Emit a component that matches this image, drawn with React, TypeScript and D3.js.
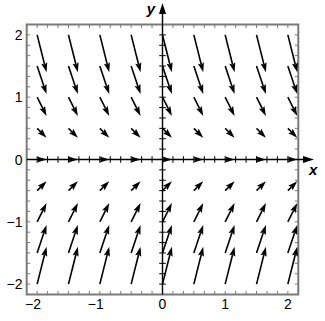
import React from "react";
import * as d3 from "d3";

// Grid positions where vectors are anchored
const gridX = [-2, -1.5, -1, -0.5, 0, 0.5, 1, 1.5, 2];
const gridY = [2, 1.5, 1, 0.5, 0, -0.5, -1, -1.5, -2];
// Vector components (per row, constant along x)
const vecDx = [0.15, 0.15, 0.15, 0.15, 0.15, 0.15, 0.15, 0.15, 0.15];
const vecDy = [-0.6, -0.45, -0.3, -0.15, 0, 0.15, 0.3, 0.45, 0.6];
// Axis tick labels
const xTickLabels = [-2, -1, 0, 1, 2];
const yTickLabels = [2, 1, 0, -1, -2];
const minorStep = 1 / 6;

const W = 325;
const H = 321;

export default function App() {
  const x = d3.scaleLinear().domain([-13 / 6, 13 / 6]).range([26.7, 298.3]);
  const y = d3.scaleLinear().domain([-13 / 6, 13 / 6]).range([294.5, 24.5]);
  const minor = d3.range(-12, 13).map((k) => k * minorStep);
  const fmt = (v: number) => (v < 0 ? "\u2212" + Math.abs(v) : String(v));

  const arrows: JSX.Element[] = [];
  gridY.forEach((gy, ri) => {
    gridX.forEach((gx, ci) => {
      const x0 = x(gx);
      const y0 = y(gy);
      const x1 = x(gx + vecDx[ri]);
      const y1 = y(gy + vecDy[ri]);
      const dx = x1 - x0;
      const dy = y1 - y0;
      const len = Math.hypot(dx, dy);
      const ux = dx / len;
      const uy = dy / len;
      const hl = Math.min(9.5, len);
      const hw = 3.1;
      const bx = x1 - ux * hl;
      const by = y1 - uy * hl;
      const nx = x1 - ux * hl * 0.85;
      const ny = y1 - uy * hl * 0.85;
      const pts = [
        [x1, y1],
        [bx - uy * hw, by + ux * hw],
        [nx, ny],
        [bx + uy * hw, by - ux * hw],
      ]
        .map((p) => p.join(","))
        .join(" ");
      arrows.push(
        <g key={`${ri}-${ci}`}>
          <line x1={x0} y1={y0} x2={nx} y2={ny} stroke="#000" strokeWidth={1.6} />
          <polygon points={pts} fill="#000" />
        </g>
      );
    });
  });

  const left = x(-13 / 6);
  const right = x(13 / 6);
  const top = y(13 / 6);
  const bottom = y(-13 / 6);
  const frameColor = "#7a7a7a";

  return (
    <svg
      width={W}
      height={H}
      style={{ position: "fixed", left: 0, top: 0, background: "#fff" }}
      fontFamily="'Liberation Sans', Arial, sans-serif"
    >
      <rect x={0} y={0} width={W} height={H} fill="#fff" />
      {/* frame ticks */}
      {minor.map((v) => (
        <g key={"ft" + v} stroke={frameColor} strokeWidth={1}>
          <line x1={x(v)} x2={x(v)} y1={top} y2={top + 3.5} />
          <line x1={x(v)} x2={x(v)} y1={bottom} y2={bottom - 3.5} />
          <line x1={left} x2={left + 3.5} y1={y(v)} y2={y(v)} />
          <line x1={right} x2={right - 3.5} y1={y(v)} y2={y(v)} />
        </g>
      ))}
      <rect
        x={left}
        y={top}
        width={right - left}
        height={bottom - top}
        fill="none"
        stroke={frameColor}
        strokeWidth={2}
      />
      {/* axes */}
      <line x1={left} x2={306} y1={y(0)} y2={y(0)} stroke="#000" strokeWidth={1.4} />
      <polygon
        points={`314,${y(0)} 303,${y(0) - 3.5} 303,${y(0) + 3.5}`}
        fill="#000"
      />
      <line x1={x(0)} x2={x(0)} y1={bottom} y2={12} stroke="#000" strokeWidth={1.4} />
      <polygon
        points={`${x(0)},3 ${x(0) - 3.5},14 ${x(0) + 3.5},14`}
        fill="#000"
      />
      {minor.map((v) => (
        <g key={"at" + v} stroke="#000" strokeWidth={1}>
          <line x1={x(v)} x2={x(v)} y1={y(0) - 3.3} y2={y(0) + 3.3} />
          <line x1={x(0) - 3.3} x2={x(0) + 3.3} y1={y(v)} y2={y(v)} />
        </g>
      ))}
      {arrows}
      {/* tick labels */}
      {xTickLabels.map((v) => (
        <text
          key={"xl" + v}
          x={x(v) + 3.9}
          y={308.5}
          fontSize={14}
          textAnchor="end"
          fill="#000"
        >
          {fmt(v)}
        </text>
      ))}
      {yTickLabels.map((v) => (
        <text
          key={"yl" + v}
          x={22.5}
          y={y(v) + 5}
          fontSize={14}
          textAnchor="end"
          fill="#000"
        >
          {fmt(v)}
        </text>
      ))}
      <text x={309} y={175} fontSize={15} fontWeight="bold" fontStyle="italic" fill="#000">
        x
      </text>
      <text
        x={155}
        y={14}
        fontSize={15}
        fontWeight="bold"
        fontStyle="italic"
        textAnchor="end"
        fill="#000"
      >
        y
      </text>
    </svg>
  );
}
